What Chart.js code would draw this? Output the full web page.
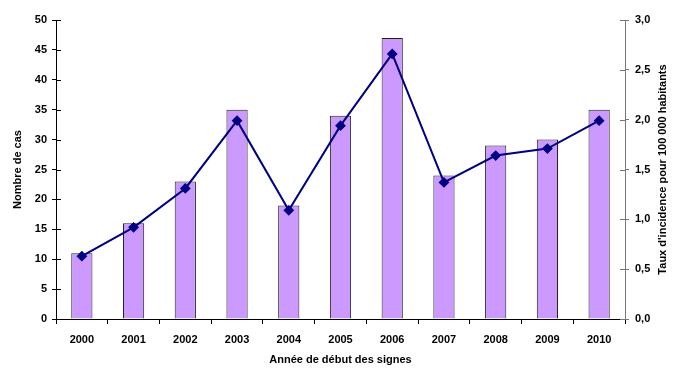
<!DOCTYPE html>
<html>
<head>
<meta charset="utf-8">
<script src="https://cdn.jsdelivr.net/npm/chart.js@4"></script>
<style>
  html, body { margin: 0; padding: 0; background: #fff; }
  #wrap { width: 679px; height: 368px; }
</style>
</head>
<body>
<div id="wrap"><canvas id="chart" width="679" height="368"></canvas></div>
<script>
const years = ['2000', '2001', '2002', '2003', '2004', '2005', '2006', '2007', '2008', '2009', '2010'];
const cases = [11, 16, 23, 35, 19, 34, 47, 24, 29, 30, 35];
const incidence = [0.63, 0.92, 1.31, 1.99, 1.09, 1.94, 2.66, 1.37, 1.64, 1.71, 1.99];
const rightTitle = "Taux d'incidence pour 100 000 habitants";

const font = { family: '"Liberation Sans", Arial, sans-serif', size: 11, weight: 'bold' };

// short tick marks on the inner side of both y axes, and the right title
// read bottom-to-top (Chart.js turns the right title the other way)
const axisExtras = {
  id: 'axisExtras',
  afterDraw(chart) {
    const c = chart.ctx;
    c.save();
    c.lineWidth = 1;
    ['y', 'y1'].forEach(id => {
      const s = chart.scales[id];
      const x = id === 'y' ? s.right : s.left;
      const dir = id === 'y' ? 1 : -1;
      c.strokeStyle = id === 'y' ? '#000' : '#777';
      s.ticks.forEach(t => {
        const py = Math.round(s.getPixelForValue(t.value)) + 0.5;
        c.beginPath();
        c.moveTo(x, py);
        c.lineTo(x + dir * 5, py);
        c.stroke();
      });
    });
    const s1 = chart.scales.y1;
    c.translate(663, (s1.top + s1.bottom) / 2);
    c.rotate(-Math.PI / 2);
    c.font = `bold ${font.size}px ${font.family}`;
    c.fillStyle = '#000';
    c.textAlign = 'center';
    c.textBaseline = 'middle';
    c.fillText(rightTitle, 0, 0);
    c.restore();
  }
};

new Chart(document.getElementById('chart'), {
  data: {
    labels: years,
    datasets: [
      {
        type: 'line',
        data: incidence,
        yAxisID: 'y1',
        borderColor: '#000080',
        backgroundColor: '#000080',
        borderWidth: 2,
        pointStyle: 'rectRot',
        pointRadius: 4,
        tension: 0,
        order: 0
      },
      {
        type: 'bar',
        data: cases,
        yAxisID: 'y',
        backgroundColor: '#CC99FF',
        borderColor: '#222',
        borderWidth: 1,
        categoryPercentage: 1,
        barPercentage: 0.41,
        order: 1
      }
    ]
  },
  options: {
    responsive: false,
    animation: false,
    layout: { padding: { top: 20, left: 0, right: 0, bottom: 0 } },
    plugins: { legend: { display: false }, tooltip: { enabled: false } },
    scales: {
      x: {
        grid: { drawOnChartArea: false, offset: true, color: '#000', tickLength: 5 },
        border: { color: '#000' },
        ticks: { color: '#000', font, padding: 9, maxRotation: 0 },
        title: { display: true, text: 'Année de début des signes', color: '#000', font, padding: { top: 0, bottom: 1 } },
        afterFit: s => { s.height = 49; }
      },
      y: {
        position: 'left',
        min: 0, max: 50,
        grid: { drawOnChartArea: false, color: '#000', tickLength: 4 },
        border: { color: '#000' },
        ticks: { stepSize: 5, color: '#000', font, padding: 5 },
        title: { display: true, text: 'Nombre de cas', color: '#000', font, padding: { top: 11, bottom: 0 } },
        afterFit: s => { s.width = 56; }
      },
      y1: {
        position: 'right',
        min: 0, max: 3,
        grid: { drawOnChartArea: false, color: '#777', tickLength: 4 },
        border: { color: '#777' },
        ticks: { stepSize: 0.5, color: '#000', font, padding: 6,
          callback: v => v.toFixed(1).replace('.', ',') },
        title: { display: false },
        afterFit: s => { s.width = 54; }
      }
    }
  },
  plugins: [axisExtras]
});
</script>
</body>
</html>
